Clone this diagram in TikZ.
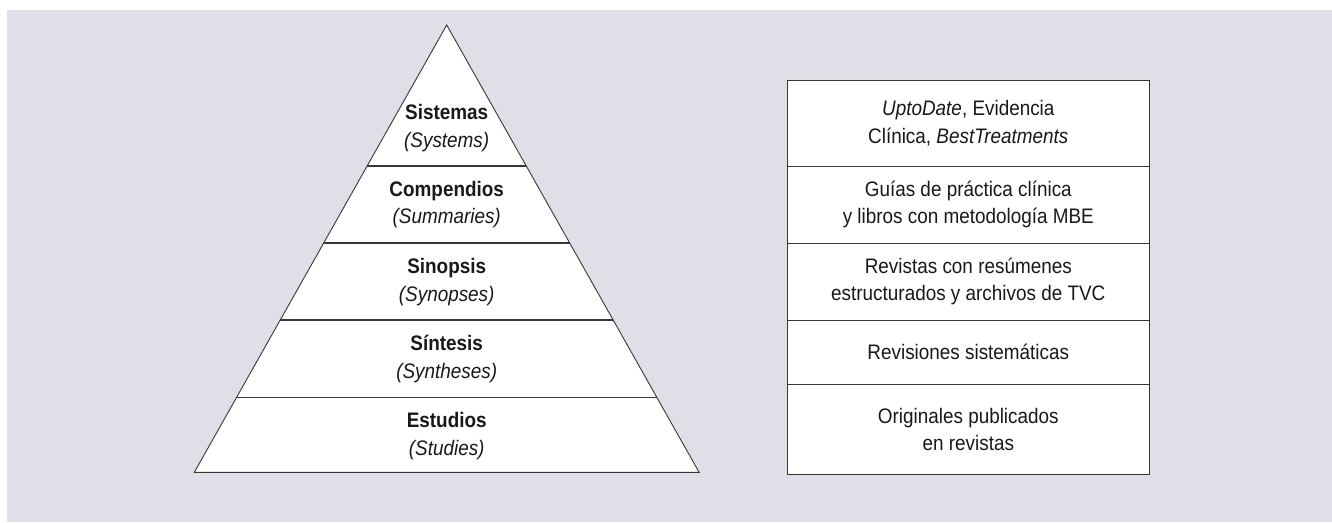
\documentclass[tikz,border=0pt]{standalone}
\usepackage{fontspec}
\setmainfont{Liberation Sans}[FakeStretch=0.9]
\usetikzlibrary{calc}
\definecolor{bgcol}{RGB}{223,223,232}
\definecolor{linecol}{RGB}{55,55,55}
\definecolor{txtcol}{RGB}{25,25,25}
\tikzset{
  lbl/.style={align=center, text=txtcol, font=\fontsize{21}{27.5}\selectfont, inner sep=0pt},
  row/.style={draw=linecol, line width=1pt, fill=white, minimum width=362pt, inner sep=0pt, align=center, text=txtcol, font=\fontsize{21}{27.5}\selectfont},
  edge/.style={draw=linecol, line width=0.9pt},
}
\begin{document}
\begin{tikzpicture}[x=1pt,y=-1pt]
\useasboundingbox (0,0) rectangle (1332,522);
\fill[bgcol] (7,10) rectangle (1332,522);
% pyramid
\coordinate (apex) at (446.7,25);
\coordinate (bl) at (194.3,472.3);
\coordinate (br) at (699.1,472.3);
\filldraw[edge, fill=white, line join=miter] (apex) -- (bl) -- (br) -- cycle;
\foreach \t in {0.3152,0.4874,0.6595,0.8328}{
  \draw[edge, line width=1.1pt] ($(apex)!\t!(bl)$) -- ($(apex)!\t!(br)$);
}
\node[lbl] (p1) at (446.7,128) {\textbf{Sistemas}\\\textit{(Systems)}};
\node[lbl] (p2) at (446.7,204.5) {\textbf{Compendios}\\\textit{(Summaries)}};
\node[lbl] (p3) at (446.7,282) {\textbf{Sinopsis}\\\textit{(Synopses)}};
\node[lbl] (p4) at (446.7,359) {\textbf{Síntesis}\\\textit{(Syntheses)}};
\node[lbl] (p5) at (446.7,436) {\textbf{Estudios}\\\textit{(Studies)}};
% boxes
\node[row, minimum height=86pt] (b1) at (968.3,123) {\textit{UptoDate}, Evidencia\\Clínica, \textit{BestTreatments}};
\node[row, minimum height=77pt] (b2) at (968.3,204.5) {Guías de práctica clínica\\y libros con metodología MBE};
\node[row, minimum height=77pt] (b3) at (968.3,281.5) {Revistas con resúmenes\\estructurados y archivos de TVC};
\node[row, minimum height=64.5pt] (b4) at (968.3,352.25) {Revisiones sistemáticas};
\node[row, minimum height=89.5pt] (b5) at (968.3,429.25) {Originales publicados\\en revistas};
\end{tikzpicture}
\end{document}
